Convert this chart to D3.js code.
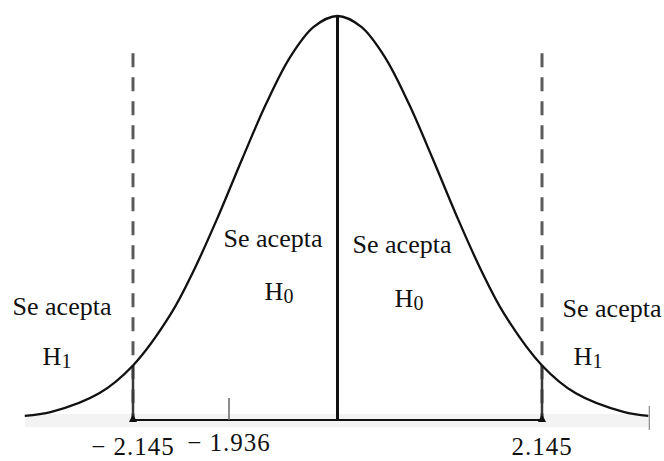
<!DOCTYPE html>
<html>
<head>
<meta charset="utf-8">
<script src="https://cdn.jsdelivr.net/npm/d3@7"></script>
<style>
  body { margin: 0; background: #fff; }
  text { font-family: "Liberation Serif", "Times New Roman", serif; fill: #111; }
</style>
</head>
<body>
<svg id="chart"></svg>
<script>
// curve (t units, height relative to peak)
var curveT = [-3.28, -3.0, -2.5, -2.145, -1.75, -1.5, -1.25, -1.0, -0.75, -0.5, -0.25, 0,
              0.25, 0.5, 0.75, 1.0, 1.25, 1.5, 1.75, 2.145, 2.5, 3.0, 3.26];
var curveH = [0.010, 0.020, 0.066, 0.135, 0.262, 0.374, 0.505, 0.646, 0.782, 0.897, 0.973, 1,
              0.973, 0.897, 0.782, 0.646, 0.505, 0.374, 0.262, 0.135, 0.066, 0.020, 0.010];

var critical = [-2.145, 2.145];
var statistic = -1.936;
var tickLabels = ["\u2212 2.145", "\u2212 1.936", "2.145"];

var regionTop = ["Se acepta", "Se acepta", "Se acepta", "Se acepta"];
var regionSub = ["1", "0", "0", "1"];

var width = 664, height = 461;
var svg = d3.select("#chart").attr("width", width).attr("height", height);

var x = d3.scaleLinear().domain([-2.145, 2.145]).range([133, 542]);
var y = d3.scaleLinear().domain([0, 1]).range([420, 16]);

// the figure is schematic: the statistic tick is not drawn to scale
var xMark = d3.scaleLinear()
  .domain([-2.145, -1.936, 0, 2.145])
  .range([x(-2.145), 229, x(0), x(2.145)]);

var curve = curveT.map(function(t, i) { return { t: t, h: curveH[i] }; });

// faint scan shadow along the base
svg.append("rect")
  .attr("x", x(-3.28))
  .attr("y", y(0) - 6)
  .attr("width", x(3.26) - x(-3.28))
  .attr("height", 13)
  .attr("fill", "#f3f3f3");

// dashed critical lines
svg.selectAll(".crit")
  .data(critical)
  .enter()
  .append("line")
  .attr("class", "crit")
  .attr("x1", function(d) { return x(d); })
  .attr("x2", function(d) { return x(d); })
  .attr("y1", y(0.908))
  .attr("y2", y(0))
  .attr("stroke", "#5a5a5a")
  .attr("stroke-width", 3)
  .attr("stroke-dasharray", "14,10");

// solid part under the curve
svg.selectAll(".critSolid")
  .data(critical)
  .enter()
  .append("line")
  .attr("class", "critSolid")
  .attr("x1", function(d) { return x(d); })
  .attr("x2", function(d) { return x(d); })
  .attr("y1", function(d) { return y(curveH[curveT.indexOf(d)]); })
  .attr("y2", y(0))
  .attr("stroke", "#3a3a3a")
  .attr("stroke-width", 2.5);

// base line between critical values
svg.append("line")
  .attr("x1", x(critical[0]))
  .attr("x2", x(critical[1]))
  .attr("y1", y(0))
  .attr("y2", y(0))
  .attr("stroke", "#111")
  .attr("stroke-width", 2.2);

// small arrow heads at the base
svg.selectAll(".head")
  .data(critical)
  .enter()
  .append("path")
  .attr("class", "head")
  .attr("d", function(d) {
    var cx = x(d), cy = y(0);
    return "M" + (cx - 4) + "," + (cy + 2) + "L" + cx + "," + (cy - 6) + "L" + (cx + 4) + "," + (cy + 2) + "Z";
  })
  .attr("fill", "#111");

// statistic tick
svg.append("line")
  .attr("x1", xMark(statistic))
  .attr("x2", xMark(statistic))
  .attr("y1", y(0) - 22)
  .attr("y2", y(0))
  .attr("stroke", "#666")
  .attr("stroke-width", 1.5);

// end tick on the right
svg.append("line")
  .attr("x1", x(3.26) + 1)
  .attr("x2", x(3.26) + 1)
  .attr("y1", y(0) - 14)
  .attr("y2", y(0) + 10)
  .attr("stroke", "#888")
  .attr("stroke-width", 1.2);

// the curve
var line = d3.line()
  .x(function(d) { return x(d.t); })
  .y(function(d) { return y(d.h); })
  .curve(d3.curveCatmullRom);

svg.append("path")
  .datum(curve)
  .attr("d", line)
  .attr("fill", "none")
  .attr("stroke", "#111")
  .attr("stroke-width", 2.3);

// centre line
svg.append("line")
  .attr("x1", x(0))
  .attr("x2", x(0))
  .attr("y1", y(1))
  .attr("y2", y(0))
  .attr("stroke", "#111")
  .attr("stroke-width", 3);

// tick labels
var labelVals = [critical[0], statistic, critical[1]];
var labelY = [455, 451, 455];
svg.selectAll(".tickLabel")
  .data(labelVals)
  .enter()
  .append("text")
  .attr("class", "tickLabel")
  .attr("x", function(d) { return xMark(d); })
  .attr("y", function(d, i) { return labelY[i]; })
  .attr("text-anchor", "middle")
  .style("font-size", "25px")
  .style("letter-spacing", "1px")
  .text(function(d, i) { return tickLabels[i]; });

// region labels
var topPos = [[62, 315], [273, 247], [402, 253], [612, 317]];
var subPos = [[57, 365], [279, 300], [409, 307], [588, 365]];

svg.selectAll(".region")
  .data(regionTop)
  .enter()
  .append("text")
  .attr("class", "region")
  .attr("x", function(d, i) { return topPos[i][0]; })
  .attr("y", function(d, i) { return topPos[i][1]; })
  .attr("text-anchor", "middle")
  .style("font-size", "26px")
  .text(function(d) { return d; });

var hyp = svg.selectAll(".hyp")
  .data(regionSub)
  .enter()
  .append("text")
  .attr("class", "hyp")
  .attr("x", function(d, i) { return subPos[i][0]; })
  .attr("y", function(d, i) { return subPos[i][1]; })
  .attr("text-anchor", "middle")
  .style("font-size", "26px");

hyp.append("tspan").text("H");
hyp.append("tspan")
  .attr("dy", 3)
  .style("font-size", "20px")
  .text(function(d) { return d; });
</script>
</body>
</html>
